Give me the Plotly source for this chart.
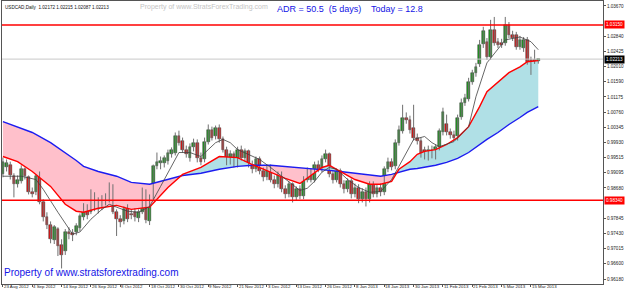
import plotly.graph_objects as go

# ---------------- data ----------------
DATE_LABELS = ["23 Aug 2012", "4 Sep 2012", "14 Sep 2012", "26 Sep 2012", "8 Oct 2012",
               "18 Oct 2012", "30 Oct 2012", "9 Nov 2012", "21 Nov 2012", "3 Dec 2012",
               "13 Dec 2012", "26 Dec 2012", "8 Jan 2013", "18 Jan 2013", "30 Jan 2013",
               "11 Feb 2013", "21 Feb 2013", "5 Mar 2013", "15 Mar 2013"]
DATE_BARS = [0, 8, 16, 24, 32, 40, 48, 56, 64, 72, 80, 88, 96, 104, 112, 120, 128, 136, 144]

OPEN = [0.9905, 0.9924, 0.9930, 0.9900, 0.9878, 0.9886, 0.9919, 0.9897, 0.9858, 0.9856,
        0.9902, 0.9828, 0.9787, 0.9766, 0.9725, 0.9755, 0.9711, 0.9694, 0.9747, 0.9744,
        0.9747, 0.9757, 0.9787, 0.9815, 0.9801, 0.9850, 0.9809, 0.9820, 0.9831, 0.9837,
        0.9872, 0.9801, 0.9782, 0.9776, 0.9812, 0.9796, 0.9801, 0.9785, 0.9801, 0.9853,
        0.9776, 0.9845, 0.9927, 0.9935, 0.9935, 0.9943, 0.9960, 0.9965, 1.0009, 0.9998,
        0.9973, 0.9951, 0.9979, 0.9992, 0.9951, 0.9946, 0.9995, 1.0028, 1.0009, 1.0033,
        1.0001, 0.9973, 0.9940, 0.9960, 0.9932, 0.9973, 0.9951, 0.9968, 0.9932, 0.9919,
        0.9946, 0.9913, 0.9897, 0.9924, 0.9891, 0.9878, 0.9905, 0.9864, 0.9850, 0.9878,
        0.9842, 0.9864, 0.9845, 0.9891, 0.9913, 0.9891, 0.9932, 0.9919, 0.9946, 0.9960,
        0.9905, 0.9891, 0.9913, 0.9878, 0.9864, 0.9886, 0.9850, 0.9869, 0.9837, 0.9858,
        0.9837, 0.9878, 0.9850, 0.9869, 0.9856, 0.9919, 0.9938, 0.9927, 0.9992, 1.0025,
        1.0061, 1.0055, 1.0033, 1.0006, 0.9998, 0.9971, 0.9954, 0.9973, 0.9954, 0.9979,
        1.0020, 1.0044, 1.0020, 1.0014, 1.0009, 1.0063, 1.0102, 1.0113, 1.0159, 1.0184,
        1.0208, 1.0263, 1.0269, 1.0228, 1.0301, 1.0269, 1.0266, 1.0266, 1.0315, 1.0288,
        1.0288, 1.0255, 1.0252, 1.0274, 1.0219, 1.0219, 1.02172]
HIGH = [0.9951, 0.9946, 0.9940, 0.9908, 0.9902, 0.9930, 0.9924, 0.9902, 0.9869, 0.9905,
        0.9913, 0.9837, 0.9801, 0.9776, 0.9766, 0.9760, 0.9727, 0.9755, 0.9760, 0.9755,
        0.9771, 0.9798, 0.9826, 0.9823, 0.9864, 0.9856, 0.9842, 0.9848, 0.9853, 0.9883,
        0.9878, 0.9809, 0.9793, 0.9817, 0.9823, 0.9809, 0.9812, 0.9809, 0.9869, 0.9864,
        0.9850, 0.9932, 0.9965, 0.9954, 0.9957, 0.9973, 0.9979, 1.0020, 1.0025, 1.0006,
        0.9984, 0.9990, 1.0003, 1.0001, 0.9965, 1.0006, 1.0042, 1.0036, 1.0039, 1.0042,
        1.0009, 0.9981, 0.9971, 0.9968, 0.9981, 0.9984, 0.9976, 0.9973, 0.9943, 0.9954,
        0.9954, 0.9924, 0.9932, 0.9932, 0.9902, 0.9913, 0.9913, 0.9875, 0.9886, 0.9883,
        0.9872, 0.9875, 0.9900, 0.9924, 0.9921, 0.9940, 0.9943, 0.9957, 0.9973, 0.9965,
        0.9916, 0.9921, 0.9921, 0.9889, 0.9894, 0.9894, 0.9880, 0.9878, 0.9867, 0.9869,
        0.9886, 0.9886, 0.9878, 0.9880, 0.9927, 0.9951, 0.9949, 1.0001, 1.0039, 1.0096,
        1.0075, 1.0066, 1.0096, 1.0017, 1.0006, 0.9981, 0.9984, 0.9984, 0.9987, 1.0031,
        1.0088, 1.0069, 1.0031, 1.0025, 1.0069, 1.0113, 1.0126, 1.0170, 1.0192, 1.0211,
        1.0274, 1.0310, 1.0279, 1.0329, 1.0337, 1.0279, 1.0277, 1.0337, 1.0323, 1.0299,
        1.0296, 1.0285, 1.0282, 1.0282, 1.0228, 1.0247, 1.02215]
LOW = [0.9897, 0.9913, 0.9891, 0.9842, 0.9869, 0.9880, 0.9891, 0.9850, 0.9842, 0.9848,
       0.9823, 0.9776, 0.9755, 0.9716, 0.9714, 0.9681, 0.9647, 0.9684, 0.9727, 0.9722,
       0.9738, 0.9749, 0.9779, 0.9782, 0.9796, 0.9804, 0.9798, 0.9807, 0.9820, 0.9828,
       0.9796, 0.9736, 0.9760, 0.9768, 0.9774, 0.9782, 0.9776, 0.9774, 0.9796, 0.9771,
       0.9766, 0.9837, 0.9919, 0.9919, 0.9924, 0.9932, 0.9951, 0.9957, 0.9984, 0.9965,
       0.9951, 0.9940, 0.9968, 0.9938, 0.9930, 0.9938, 0.9987, 0.9998, 1.0001, 0.9992,
       0.9965, 0.9930, 0.9932, 0.9924, 0.9924, 0.9943, 0.9940, 0.9924, 0.9908, 0.9911,
       0.9905, 0.9886, 0.9889, 0.9883, 0.9867, 0.9869, 0.9856, 0.9839, 0.9842, 0.9828,
       0.9834, 0.9837, 0.9837, 0.9883, 0.9883, 0.9883, 0.9911, 0.9911, 0.9938, 0.9897,
       0.9880, 0.9883, 0.9869, 0.9853, 0.9856, 0.9839, 0.9842, 0.9826, 0.9828, 0.9817,
       0.9828, 0.9842, 0.9842, 0.9845, 0.9848, 0.9911, 0.9916, 0.9919, 0.9984, 1.0017,
       1.0044, 1.0017, 0.9998, 0.9987, 0.9951, 0.9946, 0.9943, 0.9949, 0.9946, 0.9971,
       1.0012, 1.0012, 1.0003, 0.9998, 0.9998, 1.0055, 1.0093, 1.0105, 1.0151, 1.0173,
       1.0200, 1.0252, 1.0219, 1.0219, 1.0258, 1.0252, 1.0252, 1.0258, 1.0279, 1.0271,
       1.0247, 1.0247, 1.0241, 1.0206, 1.0178, 1.0208, 1.02087]
CLOSE = [0.9938, 0.9935, 0.9902, 0.9878, 0.9891, 0.9919, 0.9900, 0.9858, 0.9850, 0.9900,
         0.9828, 0.9787, 0.9766, 0.9727, 0.9760, 0.9708, 0.9684, 0.9747, 0.9741, 0.9738,
         0.9763, 0.9790, 0.9815, 0.9793, 0.9853, 0.9812, 0.9831, 0.9837, 0.9842, 0.9872,
         0.9801, 0.9782, 0.9774, 0.9809, 0.9782, 0.9793, 0.9787, 0.9801, 0.9853, 0.9779,
         0.9845, 0.9927, 0.9940, 0.9943, 0.9949, 0.9965, 0.9971, 1.0009, 0.9992, 0.9973,
         0.9960, 0.9981, 0.9992, 0.9951, 0.9940, 0.9995, 1.0028, 1.0006, 1.0033, 1.0001,
         0.9973, 0.9940, 0.9960, 0.9932, 0.9973, 0.9951, 0.9968, 0.9932, 0.9919, 0.9946,
         0.9913, 0.9897, 0.9924, 0.9891, 0.9878, 0.9905, 0.9864, 0.9850, 0.9878, 0.9842,
         0.9864, 0.9845, 0.9891, 0.9913, 0.9891, 0.9932, 0.9919, 0.9946, 0.9960, 0.9905,
         0.9891, 0.9913, 0.9878, 0.9864, 0.9886, 0.9850, 0.9869, 0.9837, 0.9858, 0.9837,
         0.9878, 0.9850, 0.9869, 0.9856, 0.9919, 0.9938, 0.9924, 0.9992, 1.0028, 1.0061,
         1.0055, 1.0028, 1.0006, 0.9998, 0.9962, 0.9954, 0.9973, 0.9957, 0.9979, 1.0023,
         1.0077, 1.0020, 1.0012, 1.0006, 1.0061, 1.0102, 1.0115, 1.0159, 1.0184, 1.0200,
         1.0260, 1.0299, 1.0228, 1.0301, 1.0266, 1.0260, 1.0260, 1.0315, 1.0288, 1.0279,
         1.0255, 1.0274, 1.0274, 1.0214, 1.0197, 1.0214, 1.02213]

# moving averages, read at sample bars
MA_BARS = [0, 4, 8, 13, 17, 20, 22, 26, 31, 35, 40, 45, 49, 54, 59, 64, 68, 73, 77, 81,
           84, 87, 89, 92, 96, 100, 103, 106, 108, 111, 113, 115, 118, 121, 124, 127, 130,
           132, 135, 138, 141, 143, 146]
MA_SLOW = [1.0050, 1.0036, 1.0020, 0.9992, 0.9965, 0.9943, 0.9927, 0.9913, 0.9900, 0.9883,
           0.9878, 0.9891, 0.9902, 0.9908, 0.9919, 0.9927, 0.9930, 0.9930, 0.9927, 0.9924,
           0.9921, 0.9919, 0.9916, 0.9913, 0.9908, 0.9902, 0.9900, 0.9905, 0.9911, 0.9919,
           0.9921, 0.9924, 0.9930, 0.9938, 0.9949, 0.9965, 0.9987, 1.0001, 1.0020, 1.0042,
           1.0061, 1.0075, 1.0091]
MA_MID = [0.9954, 0.9940, 0.9913, 0.9872, 0.9823, 0.9804, 0.9801, 0.9812, 0.9820, 0.9809,
          0.9815, 0.9869, 0.9905, 0.9924, 0.9954, 0.9951, 0.9932, 0.9911, 0.9894, 0.9880,
          0.9902, 0.9924, 0.9930, 0.9913, 0.9891, 0.9878, 0.9878, 0.9886, 0.9919, 0.9940,
          0.9960, 0.9968, 0.9973, 0.9987, 1.0006, 1.0036, 1.0091, 1.0132, 1.0159, 1.0184,
          1.0200, 1.0214, 1.0217]
FAST_BARS = [0, 5, 9, 11, 15, 18, 19, 21, 24, 27, 29, 31, 34, 37, 40, 43, 46, 48, 51, 54,
             56, 58, 60, 62, 64, 67, 70, 73, 76, 79, 81, 83, 85, 87, 89, 91, 94, 97, 100, 103,
             106, 108, 112, 115, 117, 119, 123, 127, 129, 132, 135, 137, 141, 144, 146]
MA_FAST = [0.9900, 0.9900, 0.9891, 0.9864, 0.9801, 0.9755, 0.9741, 0.9747, 0.9782, 0.9809,
           0.9823, 0.9815, 0.9804, 0.9801, 0.9817, 0.9872, 0.9927, 0.9965, 0.9965, 0.9954,
           0.9973, 0.9992, 1.0001, 0.9992, 0.9973, 0.9960, 0.9946, 0.9924, 0.9900, 0.9875,
           0.9861, 0.9867, 0.9886, 0.9911, 0.9924, 0.9919, 0.9891, 0.9869, 0.9856, 0.9858,
           0.9891, 0.9927, 1.0001, 1.0009, 0.9992, 0.9981, 0.9995, 1.0036, 1.0118, 1.0211,
           1.0247, 1.0274, 1.0282, 1.0269, 1.0247]

# axis labels (the ones at 1.03255 and 0.98265 are hidden under the level boxes)
Y_TICKS = [1.03670, 1.02840, 1.02425, 1.02010, 1.01590, 1.01175, 1.00760, 1.00345,
           0.99930, 0.99515, 0.99095, 0.98680, 0.97845, 0.97430, 0.97015, 0.96600,
           0.96180]
LEVEL_TOP = 1.03150
LEVEL_BOTTOM = 0.98340
TITLE = "USDCAD,Daily  1.02172 1.02215 1.02087 1.02213"
ADR_TEXT = "ADR = 50.5\u00a0\u00a0(5 days)"
TODAY_TEXT = "Today = 12.8"

# ---------------- figure ----------------
FONT = "Liberation Sans, Arial, sans-serif"
n = len(CLOSE)
bars = list(range(n))
fig = go.Figure()

# fill between mid and slow averages (pink when mid below slow, light blue when above)
pts = []
for k in range(len(MA_BARS)):
    pts.append((MA_BARS[k], MA_MID[k], MA_SLOW[k]))
    if k < len(MA_BARS) - 1:
        d0 = MA_MID[k] - MA_SLOW[k]
        d1 = MA_MID[k + 1] - MA_SLOW[k + 1]
        if d0 * d1 < 0:
            t = d0 / (d0 - d1)
            xc = MA_BARS[k] + t * (MA_BARS[k + 1] - MA_BARS[k])
            yc = MA_MID[k] + t * (MA_MID[k + 1] - MA_MID[k])
            pts.append((xc, yc, yc))
runs, cur = [], [pts[0]]
for p in pts[1:]:
    cur.append(p)
    if p[1] == p[2]:
        runs.append(cur)
        cur = [p]
if len(cur) > 1:
    runs.append(cur)
fx = {"pink": [], "blue": []}
fy = {"pink": [], "blue": []}
for run in runs:
    s = sum(p[1] - p[2] for p in run)
    key = "pink" if s < 0 else "blue"
    fx[key] += [p[0] for p in run] + [p[0] for p in reversed(run)] + [run[0][0], None]
    fy[key] += [p[1] for p in run] + [p[2] for p in reversed(run)] + [run[0][1], None]
fig.add_trace(go.Scatter(x=fx["pink"], y=fy["pink"], mode="lines", fill="toself",
                         fillcolor="#ffc0cb", line=dict(width=0), hoverinfo="skip"))
fig.add_trace(go.Scatter(x=fx["blue"], y=fy["blue"], mode="lines", fill="toself",
                         fillcolor="#b0e0e6", line=dict(width=0), hoverinfo="skip"))

# wicks
wx, wy = [], []
for i in bars:
    wx += [i, i, None]
    wy += [LOW[i], HIGH[i], None]
fig.add_trace(go.Scatter(x=wx, y=wy, mode="lines", line=dict(color="#707070", width=1),
                         hoverinfo="skip"))
# bodies
base = [min(o, c) for o, c in zip(OPEN, CLOSE)]
height = [max(abs(c - o), 0.00004) for o, c in zip(OPEN, CLOSE)]
colors = ["#1f9a1f" if c >= o else "#e01414" for o, c in zip(OPEN, CLOSE)]
fig.add_trace(go.Bar(x=bars, y=height, base=base, width=0.72,
                     marker=dict(color=colors, line=dict(color="#303030", width=0.5)),
                     hoverinfo="skip"))

# moving averages
fig.add_trace(go.Scatter(x=MA_BARS, y=MA_SLOW, mode="lines",
                         line=dict(color="#1c1cf0", width=1.4), hoverinfo="skip"))
fig.add_trace(go.Scatter(x=MA_BARS, y=MA_MID, mode="lines",
                         line=dict(color="#ff0000", width=1.4), hoverinfo="skip"))
fig.add_trace(go.Scatter(x=FAST_BARS, y=MA_FAST, mode="lines",
                         line=dict(color="#404040", width=0.8), hoverinfo="skip"))

# horizontal levels
bid = CLOSE[-1]
fig.add_shape(type="line", xref="paper", x0=0, x1=1, y0=bid, y1=bid,
              line=dict(color="#c8c8c8", width=1))
for lv in (LEVEL_TOP, LEVEL_BOTTOM):
    fig.add_shape(type="line", xref="paper", x0=0, x1=1, y0=lv, y1=lv,
                  line=dict(color="#ff0000", width=1.5))

ann = []
# price boxes on the axis
for val, bg in ((LEVEL_TOP, "#ff0000"), (bid, "#000000"), (LEVEL_BOTTOM, "#ff0000")):
    ann.append(dict(xref="paper", x=1, xanchor="left", xshift=1, yref="y", y=val,
                    yanchor="middle", text=f"{val:.5f}", showarrow=False, bgcolor=bg,
                    borderpad=1, font=dict(family=FONT, size=4.6, color="#ffffff")))
# date labels
for b, lab in zip(DATE_BARS, DATE_LABELS):
    ann.append(dict(xref="x", x=b, xanchor="left", yref="paper", y=0, yanchor="top",
                    yshift=1.5, borderpad=0, text=lab, showarrow=False,
                    font=dict(family=FONT, size=4.4, color="#222222")))
ann.append(dict(xref="paper", x=0, xanchor="left", xshift=1, yref="paper", y=1,
                yanchor="top", yshift=-2, text=TITLE, showarrow=False,
                font=dict(family=FONT, size=4.6, color="#111111")))
ann.append(dict(xref="paper", x=0.226, xanchor="left", yref="paper", y=0.979,
                yanchor="middle", text="Property of www.StratsForexTrading.com",
                showarrow=False, font=dict(family=FONT, size=7, color="#c4c4c4")))
ann.append(dict(xref="paper", x=0.455, xanchor="left", yref="paper", y=0.972,
                yanchor="middle", text=ADR_TEXT, showarrow=False,
                font=dict(family=FONT, size=9, color="#1414e6")))
ann.append(dict(xref="paper", x=0.610, xanchor="left", yref="paper", y=0.972,
                yanchor="middle", text=TODAY_TEXT, showarrow=False,
                font=dict(family=FONT, size=9, color="#1414e6")))
ann.append(dict(xref="paper", x=0, xanchor="left", yref="paper", y=0.042,
                yanchor="middle", text="Property of www.stratsforextrading.com",
                showarrow=False, font=dict(family=FONT, size=10, color="#1414e6")))

fig.update_layout(
    width=625, height=290,
    margin=dict(l=2, r=22, t=1, b=6),
    paper_bgcolor="#ffffff", plot_bgcolor="#ffffff",
    showlegend=False, hovermode=False, bargap=0,
    annotations=ann,
    xaxis=dict(range=[-0.25, 163.65], showgrid=False, zeroline=False, showline=True,
               linecolor="#555555", linewidth=1, mirror=True, ticks="outside",
               ticklen=2, tickcolor="#555555", tickvals=DATE_BARS, showticklabels=False,
               fixedrange=True),
    yaxis=dict(range=[0.96043, 1.03807], side="right", showgrid=False, zeroline=False,
               showline=True, linecolor="#555555", linewidth=1, mirror=True,
               ticks="outside", ticklen=2, tickcolor="#555555", tickvals=Y_TICKS,
               ticktext=[f"{v:.5f}" for v in Y_TICKS],
               tickfont=dict(family=FONT, size=4.6, color="#222222"), fixedrange=True),
)

fig.write_html("out.html", config={"displayModeBar": False})
